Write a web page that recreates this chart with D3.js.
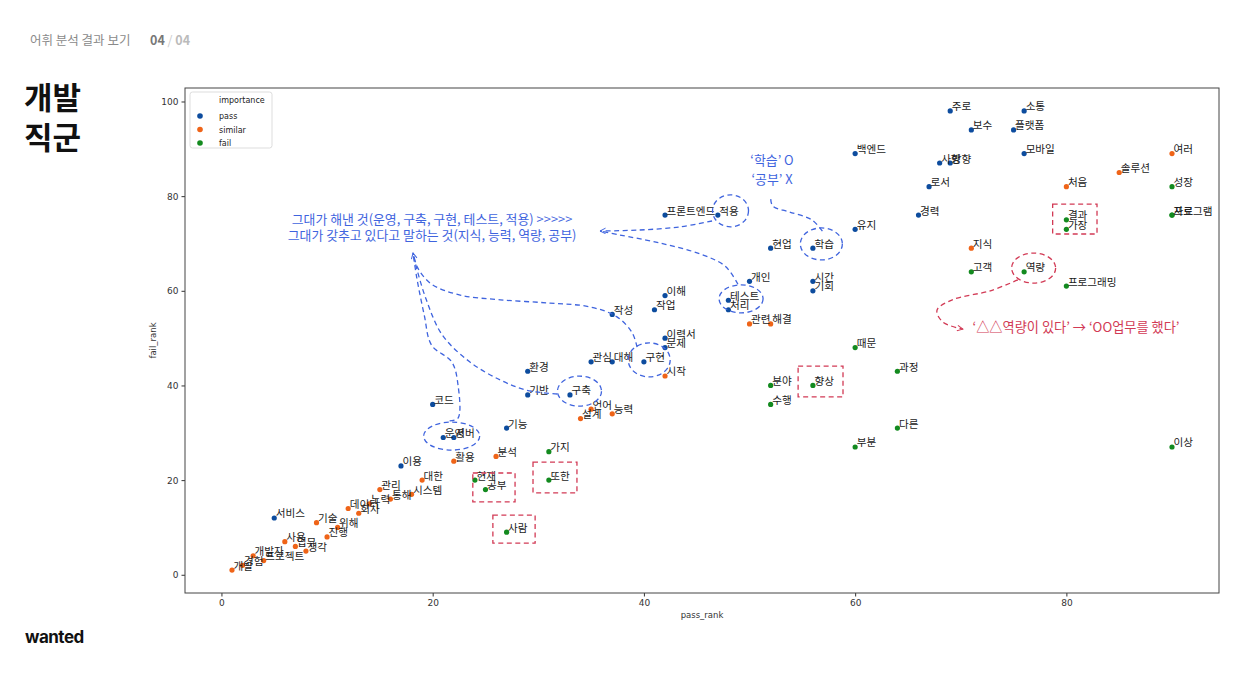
<!DOCTYPE html>
<html><head><meta charset="utf-8">
<script src="https://cdn.jsdelivr.net/npm/d3@7/dist/d3.min.js"></script>
<style>
body{margin:0;background:#fff;}
text{font-family:"Noto Sans CJK KR","Noto Sans",sans-serif;}
</style></head>
<body><svg id="c" width="1241" height="676"></svg>
<script>
// ---- data ----
const passWords = ["서비스","이용","코드","운영","서버","기능","환경","기반","구축","관심","대해","작성","구현","작업","이해","이력서","문제","프론트엔드","적용","테스트","처리","개인","현업","학습","시간","기회","백엔드","유지","경력","로서","사항","방향","주로","보수","플랫폼","소통","모바일"];
const passX = [5,17,20,21,22,27,29,29,33,35,37,37,40,41,42,42,42,42,47,48,48,50,52,56,56,56,60,60,66,67,68,69,69,71,75,76,76];
const passY = [12,23,36,29,29,31,43,38,38,45,45,55,45,56,59,50,48,76,76,58,56,62,69,69,62,60,89,73,76,82,87,87,98,94,94,98,89];

const similarWords = ["개발","경험","개발자","프로젝트","사용","업무","생각","진행","기술","위해","데이터","회사","노력","관리","통해","시스템","대한","활용","분석","설계","언어","능력","시작","관련","해결","지식","처음","솔루션","여러"];
const similarX = [1,2,3,4,6,7,8,10,9,11,12,13,14,15,16,18,19,22,26,34,35,37,42,50,52,71,80,85,90];
const similarY = [1,2,4,3,7,6,5,8,11,10,14,13,15,18,16,17,20,24,25,33,35,34,42,53,53,69,82,85,89];

const failWords = ["사람","공부","현재","또한","가지","수행","분야","향상","부분","때문","다른","과정","고객","역량","프로그래밍","가장","결과","성장","자료","프로그램","이상"];
const failX = [27,25,24,31,31,52,52,56,60,60,64,64,71,76,80,80,80,90,90,90,90];
const failY = [9,18,20,20,26,36,40,40,27,48,31,43,64,64,61,73,75,82,76,76,27];

const categories = ["pass","similar","fail"];
const xTicks = [0,20,40,60,80];
const yTicks = [0,20,40,60,80,100];

// annotation anchors (data units)
const blueEllipses = [[48.2,76.9,18,16],[56.8,69.9,21,16],[49.2,58.3,22,14],[40.5,45.4,21,17],[33.9,38.8,22,15],[21.8,29.3,28,14]];
const redEllipses = [[76.9,64.8,22,15]];
const redRects = [[78.7,78.3,82.9,72.0],[54.6,44.1,58.85,37.6],[23.8,21.5,27.8,15.4],[29.5,23.8,33.66,17.3],[25.7,12.6,29.7,6.7]];
const curveA = [[46.45,74.75],[43.4,73.5],[39.6,72.85],[35.84,72.63]];
const curveB = [[48.9,61.4],[47.7,65.2],[45.3,67.8],[41.5,70.1],[37.7,71.8],[35.84,72.63]];
const curveC = [[39.35,48.1],[38.9,51.1],[37.45,54.5],[34.9,56.6],[31.1,57.4],[26.4,58.1],[22.6,59.1],[19.9,61.4],[18.6,64.8],[18.14,67.99]];
const curveD = [[31.8,38.2],[28.9,39.0],[26.4,41.15],[23.5,45.0],[20.9,50.7],[19.4,58.1],[18.4,65.45],[18.14,67.99]];
const curveE = [[21.6,32.5],[22.4,33.1],[22.4,40.1],[21.8,45.0],[19.9,48.5],[19.2,54.9],[18.5,62.7],[18.14,67.99]];
const curveF = [[56.9,72.6],[55.9,75.0],[53.8,76.65],[52.2,77.9],[52.0,79.6]];
const curveG = [[75.4,62.3],[72.8,60.0],[69.2,58.1],[67.75,55.9],[68.3,53.4],[70.2,51.9]];

// ---- drawing ----
const svg = d3.select("#c");
svg.append("rect").attr("width",1241).attr("height",676).attr("fill","#fff");

// page header
const hdr = svg.append("text").attr("x",30).attr("y",45).attr("font-size",12.5);
hdr.append("tspan").attr("fill","#8a8a8a").text("어휘 분석 결과 보기");
hdr.append("tspan").attr("x",150).attr("fill","#777").attr("font-weight","bold").text("04");
hdr.append("tspan").attr("fill","#ccc").text(" / ");
hdr.append("tspan").attr("fill","#bbb").attr("font-weight","bold").text("04");
svg.append("text").attr("x",24).attr("y",109).attr("font-size",31).attr("font-weight","bold").attr("fill","#111").text("개발");
svg.append("text").attr("x",24).attr("y",149).attr("font-size",31).attr("font-weight","bold").attr("fill","#111").text("직군");
svg.append("text").attr("x",25).attr("y",643).attr("font-size",17).attr("font-weight","bold").attr("fill","#111")
  .style("font-family","Inter, Lato, sans-serif").attr("letter-spacing",-0.5).text("wanted");

const L = 185, R = 1219, T = 88, B = 593;
const x = d3.scaleLinear().domain([-3.45, 94.45]).range([L, R]);
const y = d3.scaleLinear().domain([-3.85, 102.85]).range([B, T]);

// axes
const xa = svg.append("g").attr("transform",`translate(0,${B})`)
  .call(d3.axisBottom(x).tickValues(xTicks).tickSize(3.5).tickPadding(3));
const ya = svg.append("g").attr("transform",`translate(${L},0)`)
  .call(d3.axisLeft(y).tickValues(yTicks).tickSize(3.5).tickPadding(3));
[xa,ya].forEach(g=>{
  g.select(".domain").remove();
  g.selectAll("text").attr("font-size",9).attr("fill","#333").style("font-family","DejaVu Sans, sans-serif");
  g.selectAll("line").attr("stroke","#333");
});
svg.append("rect").attr("x",L).attr("y",T).attr("width",R-L).attr("height",B-T)
  .attr("fill","none").attr("stroke","#444").attr("stroke-width",1);
svg.append("text").attr("x",(L+R)/2).attr("y",618).attr("text-anchor","middle").attr("font-size",8.5)
  .attr("fill","#333").style("font-family","DejaVu Sans, sans-serif").text("pass_rank");
svg.append("text").attr("transform",`translate(156,${(T+B)/2}) rotate(-90)`).attr("text-anchor","middle").attr("font-size",8.5)
  .attr("fill","#333").style("font-family","DejaVu Sans, sans-serif").text("fail_rank");

const colors = {pass:"#0d4c9e", similar:"#ef6418", fail:"#138a1f"};
const sets = {
  pass: passWords.map((w,i)=>({w, x:passX[i], y:passY[i]})),
  similar: similarWords.map((w,i)=>({w, x:similarX[i], y:similarY[i]})),
  fail: failWords.map((w,i)=>({w, x:failX[i], y:failY[i]}))
};
const gPts = svg.append("g");
const gLab = svg.append("g");
categories.forEach(c=>{
  gPts.selectAll(null).data(sets[c]).enter().append("circle")
    .attr("cx",d=>x(d.x)).attr("cy",d=>y(d.y)).attr("r",2.6).attr("fill",colors[c]);
  gLab.selectAll(null).data(sets[c]).enter().append("text")
    .attr("x",d=>x(d.x)+1.5).attr("y",d=>y(d.y)-0.5).attr("font-size",10.6).attr("fill","#1a1a1a")
    .text(d=>d.w);
});

// legend
const lg = svg.append("g");
lg.append("rect").attr("x",190).attr("y",92).attr("width",82).attr("height",56).attr("rx",2.5)
  .attr("fill","#fff").attr("stroke","#d4d4d4").attr("stroke-width",0.8);
lg.append("text").attr("x",219).attr("y",103).attr("font-size",8).attr("fill","#222")
  .style("font-family","DejaVu Sans, sans-serif").text("importance");
categories.forEach((c,i)=>{
  lg.append("circle").attr("cx",200).attr("cy",116+i*13.5).attr("r",2.8).attr("fill",colors[c]);
  lg.append("text").attr("x",219).attr("y",119+i*13.5).attr("font-size",8).attr("fill","#222")
    .style("font-family","DejaVu Sans, sans-serif").text(c);
});

// annotations
const blue = "#3f64de", red = "#d23a55";
const defs = svg.append("defs");
function marker(id,col){
  defs.append("marker").attr("id",id).attr("viewBox","0 0 10 10").attr("refX",9).attr("refY",5)
    .attr("markerWidth",7).attr("markerHeight",7).attr("orient","auto").attr("markerUnits","userSpaceOnUse")
    .append("path").attr("d","M1,1 L9,5 L1,9").attr("fill","none").attr("stroke",col).attr("stroke-width",1.4)
    .attr("stroke-dasharray","none");
}
marker("ab",blue); marker("ar",red);
const ga = svg.append("g").attr("fill","none").attr("stroke-width",1.3).attr("stroke-dasharray","5,3.5");
blueEllipses.forEach(e=>ga.append("ellipse").attr("cx",x(e[0])).attr("cy",y(e[1])).attr("rx",e[2]).attr("ry",e[3]).attr("stroke",blue));
redEllipses.forEach(e=>ga.append("ellipse").attr("cx",x(e[0])).attr("cy",y(e[1])).attr("rx",e[2]).attr("ry",e[3]).attr("stroke",red));
redRects.forEach(r=>ga.append("rect").attr("x",x(r[0])).attr("y",y(r[1])).attr("width",x(r[2])-x(r[0])).attr("height",y(r[3])-y(r[1])).attr("stroke",red));
const line = d3.line().x(d=>x(d[0])).y(d=>y(d[1])).curve(d3.curveCatmullRom);
[[curveA,"ab"],[curveB,null],[curveC,"ab"],[curveD,null],[curveE,null],[curveF,null]].forEach(([c,m])=>{
  const p = ga.append("path").attr("d",line(c)).attr("stroke",blue);
  if(m) p.attr("marker-end",`url(#${m})`);
});
ga.append("path").attr("d",line(curveG)).attr("stroke",red).attr("marker-end","url(#ar)");

svg.append("text").attr("x",x(19.94)).attr("y",y(74.11)).attr("text-anchor","middle").attr("font-size",12.9).attr("fill",blue)
  .text("그대가 해낸 것(운영, 구축, 구현, 테스트, 적용) >>>>>");
svg.append("text").attr("x",x(19.94)).attr("y",y(70.73)).attr("text-anchor","middle").attr("font-size",12.9).attr("fill",blue)
  .text("그대가 갖추고 있다고 말하는 것(지식, 능력, 역량, 공부)");
svg.append("text").attr("x",x(52.13)).attr("y",y(86.58)).attr("text-anchor","middle").attr("font-size",12.9).attr("fill",blue)
  .text("‘학습’ O");
svg.append("text").attr("x",x(52.13)).attr("y",y(82.56)).attr("text-anchor","middle").attr("font-size",12.9).attr("fill",blue)
  .text("‘공부’ X");
svg.append("text").attr("x",x(80.91)).attr("y",y(51.3)).attr("text-anchor","middle").attr("font-size",13.2).attr("fill",red)
  .text("‘△△역량이 있다’ → ‘OO업무를 했다’");
</script></body></html>
